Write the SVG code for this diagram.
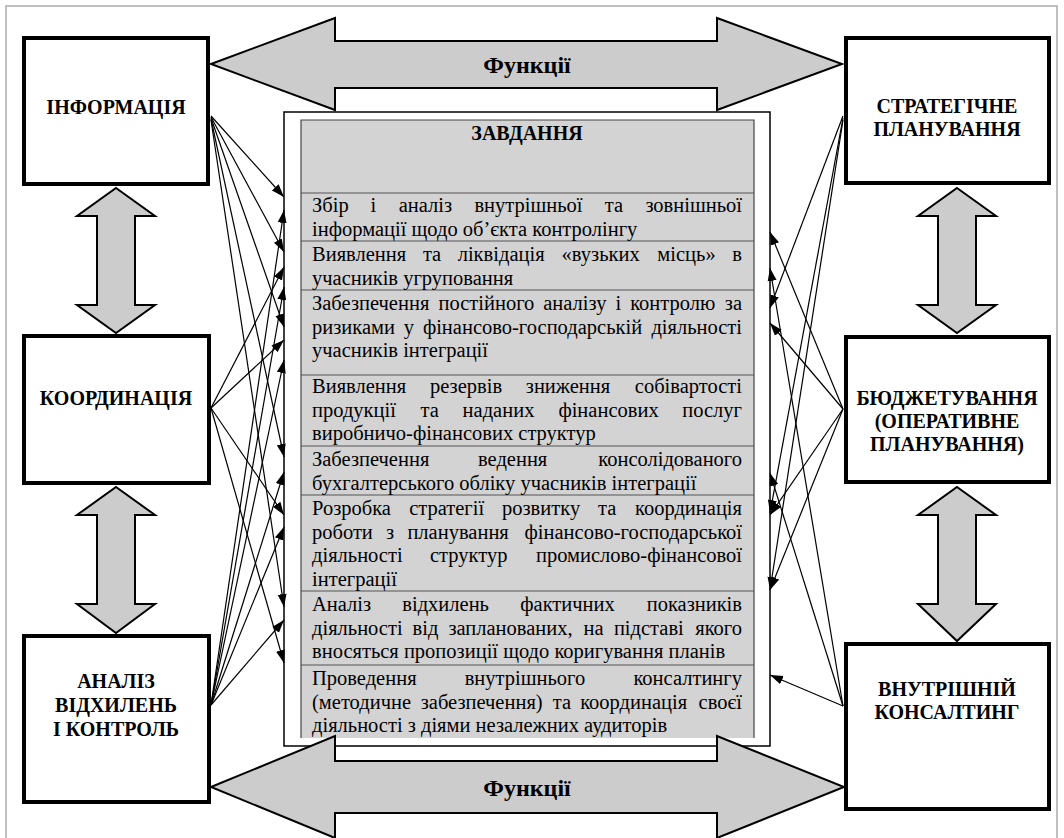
<svg xmlns="http://www.w3.org/2000/svg" width="1064" height="838" viewBox="0 0 1064 838">
<style>
.t{font-family:"Liberation Serif","Times New Roman",serif;font-size:20.5px;fill:#000}
.e{text-anchor:end}
.lb{font-family:"Liberation Serif","Times New Roman",serif;font-size:20px;font-weight:bold;text-anchor:middle;fill:#000}
.fn{font-family:"Liberation Serif","Times New Roman",serif;font-size:24px;font-weight:bold;text-anchor:middle;fill:#000}
.box{fill:#fff;stroke:#000;stroke-width:4}
.big{fill:#cccccc;stroke:#000;stroke-width:2;stroke-linejoin:miter}
.rl{stroke:#555;stroke-width:1.2}
.cn line{stroke:#000;stroke-width:1.2;marker-end:url(#ah)}
</style>
<defs>
<marker id="ah" markerUnits="userSpaceOnUse" markerWidth="14" markerHeight="10" refX="13" refY="5" orient="auto"><path d="M0,0.5 L13,5 L0,9.5 z" fill="#000"/></marker>
</defs>
<rect x="0" y="0" width="1064" height="838" fill="#fff"/>
<rect x="6" y="6" width="1051" height="850" fill="none" stroke="#aaaaaa" stroke-width="1.5"/>

<g id="tasks">
<rect x="284" y="112" width="486" height="634" fill="#fff" stroke="#000" stroke-width="1.5"/>
<rect x="301" y="120" width="453" height="618" fill="#d3d3d3"/>
<path d="M301,738 V120 H754 V738" fill="none" stroke="#444" stroke-width="1.2"/>
<g class="rl">
<line x1="301" y1="193" x2="754" y2="193"/>
<line x1="301" y1="241" x2="754" y2="241"/>
<line x1="301" y1="290" x2="754" y2="290"/>
<line x1="301" y1="375" x2="754" y2="375"/>
<line x1="301" y1="446" x2="754" y2="446"/>
<line x1="301" y1="495" x2="754" y2="495"/>
<line x1="301" y1="591" x2="754" y2="591"/>
<line x1="301" y1="665" x2="754" y2="665"/>
</g>
<text class="lb" x="527" y="140">ЗАВДАННЯ</text>

<text class="t" y="212"><tspan x="312">Збір</tspan><tspan x="370.5">і</tspan><tspan x="398.7">аналіз</tspan><tspan x="474.4">внутрішньої</tspan><tspan x="604.8">та</tspan></text>
<text class="t e" x="742" y="212">зовнішньої</text>
<text class="t" x="312" y="235.5">інформації щодо об’єкта контролінгу</text>

<text class="t" y="261"><tspan x="312">Виявлення</tspan><tspan x="422.9">та</tspan><tspan x="457.7">ліквідація</tspan><tspan x="561.6">«вузьких</tspan><tspan x="657.3">місць»</tspan></text>
<text class="t e" x="742" y="261">в</text>
<text class="t" x="312" y="284.5">учасників угруповання</text>

<text class="t" y="310"><tspan x="312">Забезпечення</tspan><tspan x="438.5">постійного</tspan><tspan x="543.2">аналізу</tspan><tspan x="615.6">і</tspan><tspan x="630.2">контролю</tspan></text>
<text class="t e" x="742" y="310">за</text>
<text class="t" y="333.5"><tspan x="312">ризиками</tspan><tspan x="403.8">у</tspan><tspan x="422.9">фінансово-господарській</tspan></text>
<text class="t e" x="742" y="333.5">діяльності</text>
<text class="t" x="312" y="357">учасників інтеграції</text>

<text class="t" y="393"><tspan x="312">Виявлення</tspan><tspan x="430">резервів</tspan><tspan x="525.8">зниження</tspan></text>
<text class="t e" x="742" y="393">собівартості</text>
<text class="t" y="416.5"><tspan x="312">продукції</tspan><tspan x="420.5">та</tspan><tspan x="462.6">наданих</tspan><tspan x="558.4">фінансових</tspan></text>
<text class="t e" x="742" y="416.5">послуг</text>
<text class="t" x="312" y="440">виробничо-фінансових структур</text>

<text class="t" y="466"><tspan x="312">Забезпечення</tspan><tspan x="478">ведення</tspan></text>
<text class="t e" x="742" y="466">консолідованого</text>
<text class="t" x="312" y="489.5">бухгалтерського обліку учасників інтеграції</text>

<text class="t" y="515"><tspan x="312">Розробка</tspan><tspan x="409.2">стратегії</tspan><tspan x="502">розвитку</tspan><tspan x="598">та</tspan></text>
<text class="t e" x="742" y="515">координація</text>
<text class="t" y="538.5"><tspan x="312">роботи</tspan><tspan x="386.1">з</tspan><tspan x="407.4">планування</tspan></text>
<text class="t e" x="742" y="538.5">фінансово-господарської</text>
<text class="t" y="562"><tspan x="312">діяльності</tspan><tspan x="430">структур</tspan></text>
<text class="t e" x="742" y="562">промислово-фінансової</text>
<text class="t" x="312" y="585.5">інтеграції</text>

<text class="t" y="611"><tspan x="312">Аналіз</tspan><tspan x="402.3">відхилень</tspan><tspan x="520.3">фактичних</tspan></text>
<text class="t e" x="742" y="611">показників</text>
<text class="t" y="634.5"><tspan x="312">діяльності</tspan><tspan x="412.6">від</tspan><tspan x="448.4">запланованих,</tspan><tspan x="583.6">на</tspan><tspan x="613.9">підставі</tspan></text>
<text class="t e" x="742" y="634.5">якого</text>
<text class="t" x="312" y="658">вносяться пропозиції щодо коригування планів</text>

<text class="t" y="685"><tspan x="312">Проведення</tspan><tspan x="464.7">внутрішнього</tspan></text>
<text class="t e" x="742" y="685">консалтингу</text>
<text class="t" y="708.5"><tspan x="312">(методичне</tspan><tspan x="420.7">забезпечення)</tspan><tspan x="552.8">та</tspan><tspan x="580.2">координація</tspan></text>
<text class="t e" x="742" y="708.5">своєї</text>
<text class="t" x="312" y="732">діяльності з діями незалежних аудиторів</text>
</g>

<g id="functions-top">
<polygon class="big" points="211,64 335,18 335,41 717,41 717,18 842,64 717,110 717,88 335,88 335,110"/>
<text class="fn" x="527" y="73">Функції</text>
</g>
<g id="functions-bottom">
<polygon class="big" points="211,787 335,736 335,761 717,761 717,736 844,787 717,838 717,813 335,813 335,838"/>
<text class="fn" x="527" y="796">Функції</text>
</g>

<g id="links-vertical">
<polygon class="big" points="116,188 155,216 135,216 135,305 155,305 116,333 77,305 97,305 97,216 77,216"/>
<polygon class="big" points="116,487 155,515 135,515 135,604 155,604 116,633 77,604 97,604 97,515 77,515"/>
<polygon class="big" points="957,188 996,216 976,216 976,305 996,305 957,333 918,305 938,305 938,216 918,216"/>
<polygon class="big" points="957,487 996,515 976,515 976,604 996,604 957,641 918,604 938,604 938,515 918,515"/>
</g>

<g id="node-info">
<rect class="box" x="24" y="38" width="184" height="146"/>
<text class="lb" x="116" y="114">ІНФОРМАЦІЯ</text>
</g>
<g id="node-coord">
<rect class="box" x="24" y="336" width="185" height="147"/>
<text class="lb" x="116" y="405">КООРДИНАЦІЯ</text>
</g>
<g id="node-analysis">
<rect class="box" x="24" y="636" width="185" height="166"/>
<text class="lb" x="116" y="688">АНАЛІЗ</text>
<text class="lb" x="116" y="712">ВІДХИЛЕНЬ</text>
<text class="lb" x="116" y="736">І КОНТРОЛЬ</text>
</g>
<g id="node-strategy">
<rect class="box" x="846" y="38" width="203" height="145"/>
<text class="lb" x="947" y="113">СТРАТЕГІЧНЕ</text>
<text class="lb" x="947" y="136">ПЛАНУВАННЯ</text>
</g>
<g id="node-budget">
<rect class="box" x="846" y="337" width="203" height="145"/>
<text class="lb" x="947" y="405">БЮДЖЕТУВАННЯ</text>
<text class="lb" x="947" y="428">(ОПЕРАТИВНЕ</text>
<text class="lb" x="947" y="451">ПЛАНУВАННЯ)</text>
</g>
<g id="node-consult">
<rect class="box" x="846" y="644" width="203" height="165"/>
<text class="lb" x="947" y="696">ВНУТРІШНІЙ</text>
<text class="lb" x="947" y="719">КОНСАЛТИНГ</text>
</g>

<g id="connectors" class="cn">
<line x1="211" y1="116" x2="284" y2="197"/>
<line x1="211" y1="117" x2="284" y2="252"/>
<line x1="211" y1="118" x2="284" y2="327"/>
<line x1="211" y1="119" x2="284" y2="457"/>
<line x1="211" y1="120" x2="284" y2="607"/>
<line x1="211" y1="408" x2="284" y2="267"/>
<line x1="211" y1="408" x2="284" y2="340"/>
<line x1="211" y1="408" x2="284" y2="515"/>
<line x1="211" y1="408" x2="284" y2="663"/>
<line x1="211" y1="705" x2="284" y2="210"/>
<line x1="211" y1="705" x2="284" y2="287"/>
<line x1="211" y1="705" x2="284" y2="360"/>
<line x1="211" y1="705" x2="284" y2="472"/>
<line x1="211" y1="705" x2="284" y2="527"/>
<line x1="211" y1="705" x2="284" y2="620"/>
<line x1="843" y1="116" x2="770" y2="308"/>
<line x1="843" y1="118" x2="770" y2="513"/>
<line x1="843" y1="120" x2="770" y2="590"/>
<line x1="843" y1="409" x2="770" y2="232"/>
<line x1="843" y1="409" x2="770" y2="323"/>
<line x1="843" y1="409" x2="770" y2="515"/>
<line x1="843" y1="409" x2="770" y2="590"/>
<line x1="843" y1="706" x2="770" y2="268"/>
<line x1="843" y1="706" x2="770" y2="473"/>
<line x1="843" y1="706" x2="770" y2="675"/>
</g>
</svg>
